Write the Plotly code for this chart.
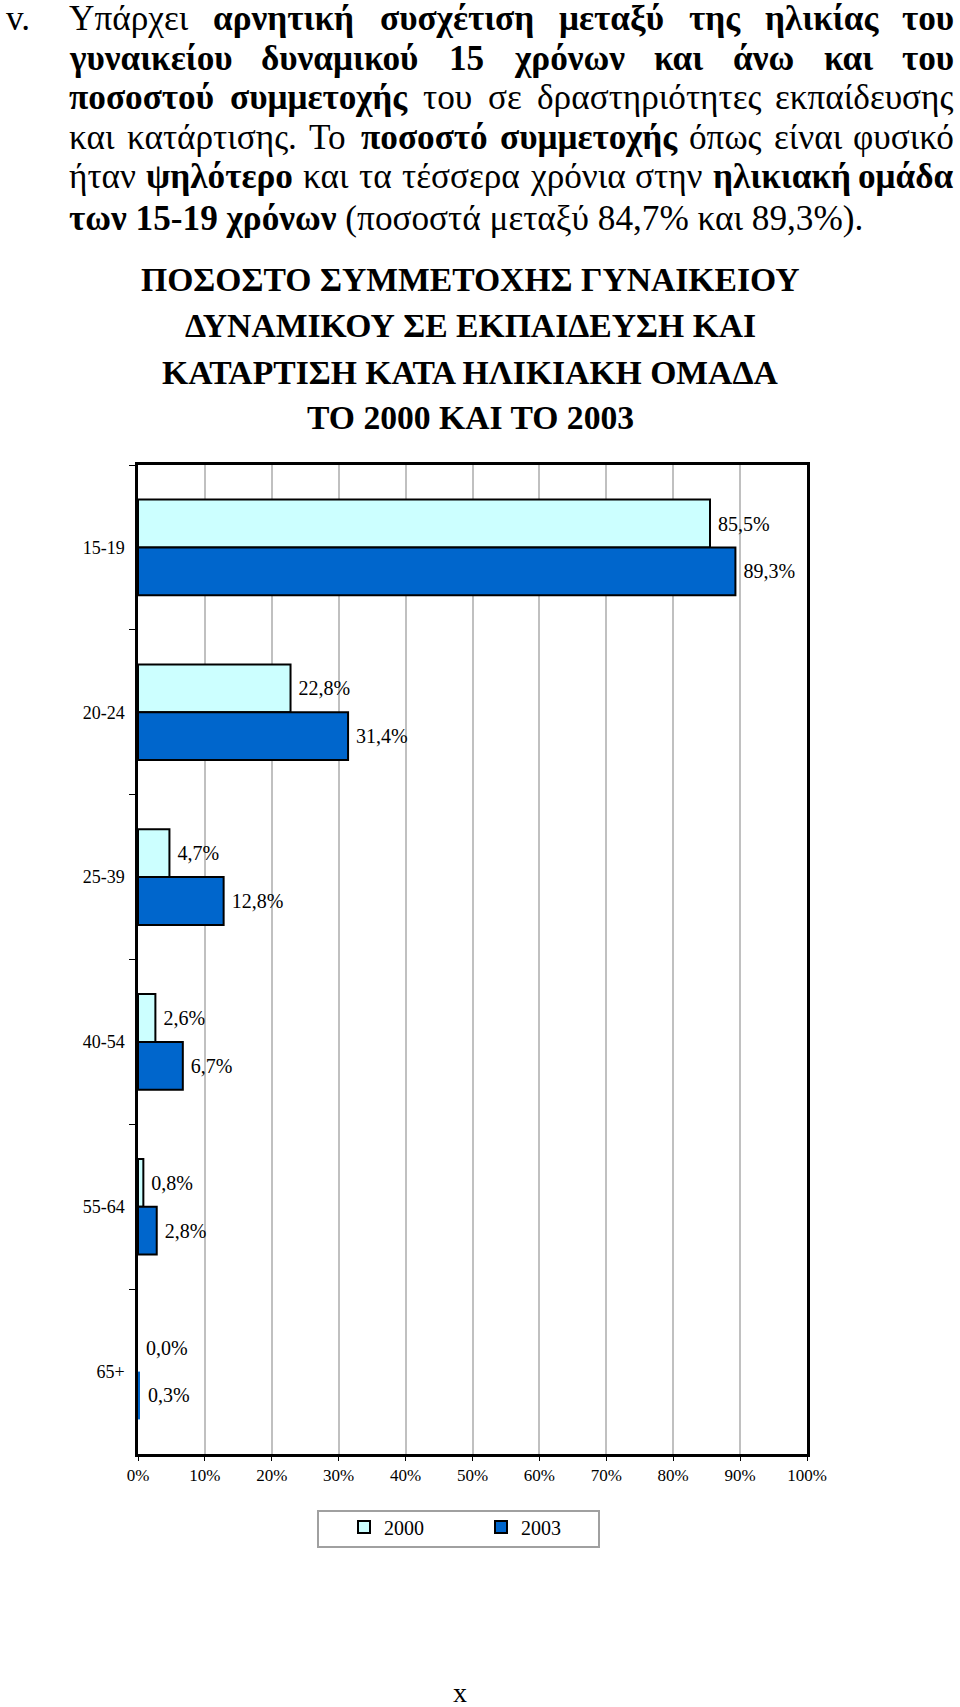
import glob
import struct

import plotly.graph_objects as go

# chart data
age_groups = ["15-19", "20-24", "25-39", "40-54", "55-64", "65+"]
pct_2000 = [85.5, 22.8, 4.7, 2.6, 0.8, 0.0]
pct_2003 = [89.3, 31.4, 12.8, 6.7, 2.8, 0.3]
series_names = ["2000", "2003"]
x_tickvals = [0, 10, 20, 30, 40, 50, 60, 70, 80, 90, 100]
x_ticktext = ["0%", "10%", "20%", "30%", "40%", "50%", "60%", "70%", "80%",
              "90%", "100%"]

title_lines = [
    "ΠΟΣΟΣΤΟ ΣΥΜΜΕΤΟΧΗΣ ΓΥΝΑΙΚΕΙΟΥ",
    "ΔΥΝΑΜΙΚΟΥ ΣΕ ΕΚΠΑΙΔΕΥΣΗ ΚΑΙ",
    "ΚΑΤΑΡΤΙΣΗ ΚΑΤΑ ΗΛΙΚΙΑΚΗ ΟΜΑΔΑ",
    "ΤΟ 2000 ΚΑΙ ΤΟ 2003",
]

# paragraph: words as (text, bold); the last line is not justified
para_lines = [
    [("Υπάρχει", 0), ("αρνητική", 1), ("συσχέτιση", 1), ("μεταξύ", 1),
     ("της", 1), ("ηλικίας", 1), ("του", 1)],
    [("γυναικείου", 1), ("δυναμικού", 1), ("15", 1), ("χρόνων", 1),
     ("και", 1), ("άνω", 1), ("και", 1), ("του", 1)],
    [("ποσοστού", 1), ("συμμετοχής", 1), ("του", 0), ("σε", 0),
     ("δραστηριότητες", 0), ("εκπαίδευσης", 0)],
    [("και", 0), ("κατάρτισης.", 0), ("Το", 0), ("ποσοστό", 1),
     ("συμμετοχής", 1), ("όπως", 0), ("είναι", 0), ("φυσικό", 0)],
    [("ήταν", 0), ("ψηλότερο", 1), ("και", 0), ("τα", 0), ("τέσσερα", 0),
     ("χρόνια", 0), ("στην", 0), ("ηλικιακή", 1), ("ομάδα", 1)],
    [("των 15-19 χρόνων", 1), (" (ποσοστά μεταξύ 84,7% και 89,3%).", 0)],
]

# page layout, px
W, H = 960, 1707
PL, PR, PT, PB = 138, 807, 465, 1454   # plot area
TXT_L, TXT_R = 68, 955
LINE_Y = [18, 58, 98, 137, 177, 218]
SERIF = "Liberation Serif"


def px(x):
    return (x - PL) / (PR - PL)


def py(y):
    return (PB - y) / (PB - PT)


def font_widths(name):
    # advance widths of a TrueType font, used to justify the paragraph
    paths = glob.glob("/usr/share/fonts/**/%s" % name, recursive=True)
    paths += glob.glob("/usr/local/share/fonts/**/%s" % name, recursive=True)
    if not paths:
        return None
    data = open(paths[0], "rb").read()
    u16 = lambda o: struct.unpack(">H", data[o:o + 2])[0]
    s16 = lambda o: struct.unpack(">h", data[o:o + 2])[0]
    tab = {}
    for i in range(u16(4)):
        tag, _, off, _ = struct.unpack(">4sIII", data[12 + 16 * i:28 + 16 * i])
        tab[tag.decode("latin-1")] = off
    upem = u16(tab["head"] + 18)
    nhm = u16(tab["hhea"] + 34)
    adv = [u16(tab["hmtx"] + 4 * i) for i in range(nhm)]
    cm = tab["cmap"]
    sub = None
    for i in range(u16(cm + 2)):
        pid, eid, off = struct.unpack(">HHI", data[cm + 4 + 8 * i:cm + 12 + 8 * i])
        if pid == 3 and eid == 1:
            sub = cm + off
    if sub is None or u16(sub) != 4:
        return None
    seg2 = u16(sub + 6)
    ends = sub + 14
    starts = ends + seg2 + 2
    deltas = starts + seg2
    ranges = deltas + seg2

    def glyph(c):
        for s in range(seg2 // 2):
            if c <= u16(ends + 2 * s):
                st = u16(starts + 2 * s)
                if c < st:
                    return 0
                ro = u16(ranges + 2 * s)
                if ro == 0:
                    return (c + s16(deltas + 2 * s)) & 0xFFFF
                g = u16(ranges + 2 * s + ro + 2 * (c - st))
                return (g + s16(deltas + 2 * s)) & 0xFFFF if g else 0
        return 0

    def width(text):
        return sum(adv[min(glyph(ord(ch)), nhm - 1)] for ch in text) / upem
    return width


w_reg = font_widths("LiberationSerif-Regular.ttf")
w_bold = font_widths("LiberationSerif-Bold.ttf")
if w_reg is None or w_bold is None:
    w_reg = lambda t: 0.47 * len(t)
    w_bold = lambda t: 0.50 * len(t)


def em(word, bold):
    return w_bold(word) if bold else w_reg(word)


# font sizes from the widths of the last paragraph line and first title line
para_size = 795 / sum(em(w, b) for w, b in para_lines[-1])
para_size = max(28, min(37, para_size))
title_size = 661 / w_bold(title_lines[0])
title_size = max(28, min(38, title_size))

fig = go.Figure()
fig.add_trace(go.Bar(
    y=age_groups, x=pct_2000, name=series_names[0], orientation="h",
    marker=dict(color="#CCFFFF",
                line=dict(color="black",
                          width=[2 if v >= 0.5 else 0 for v in pct_2000])),
    texttemplate="\u00a0%{x:.1f}%", textposition="outside", cliponaxis=False,
    textfont=dict(family=SERIF, size=20, color="black"),
))
fig.add_trace(go.Bar(
    y=age_groups, x=pct_2003, name=series_names[1], orientation="h",
    marker=dict(color="#0066CC",
                line=dict(color="black",
                          width=[2 if v >= 0.5 else 0 for v in pct_2003])),
    texttemplate="\u00a0%{x:.1f}%", textposition="outside", cliponaxis=False,
    textfont=dict(family=SERIF, size=20, color="black"),
))

ann = []
para = [dict(text="v.", x=px(5), y=py(LINE_Y[0]), xanchor="left")]
for li, words in enumerate(para_lines[:-1]):
    widths = [em(w, b) * para_size for w, b in words]
    gap = (TXT_R - TXT_L - sum(widths)) / (len(words) - 1)
    x = TXT_L
    for i, (w, b) in enumerate(words):
        t = "<b>%s</b>" % w if b else w
        if i == len(words) - 1:
            para.append(dict(text=t, x=px(TXT_R), y=py(LINE_Y[li]),
                             xanchor="right"))
        else:
            para.append(dict(text=t, x=px(x), y=py(LINE_Y[li]),
                             xanchor="left"))
        x += widths[i] + gap
last = "".join("<b>%s</b>" % w if b else w for w, b in para_lines[-1])
para.append(dict(text=last, x=px(TXT_L), y=py(LINE_Y[5]), xanchor="left"))
for a in para:
    a.update(xref="paper", yref="paper", yanchor="middle", showarrow=False,
             borderpad=0, font=dict(family=SERIF, size=para_size, color="black"))
ann += para

# chart title
for t, yy in zip(title_lines, [279, 325, 372, 418]):
    ann.append(dict(text="<b>%s</b>" % t, x=px(470), y=py(yy), xref="paper",
                    yref="paper", xanchor="center", yanchor="middle",
                    showarrow=False, borderpad=0,
                    font=dict(family=SERIF, size=title_size, color="black")))

# page number
ann.append(dict(text="x", x=px(460), y=py(1692), xref="paper", yref="paper",
                xanchor="center", yanchor="middle", showarrow=False,
                borderpad=0, font=dict(family=SERIF, size=28, color="black")))

fig.update_layout(
    width=W, height=H,
    margin=dict(l=PL, r=W - PR, t=PT, b=H - PB, pad=0),
    paper_bgcolor="white", plot_bgcolor="white",
    separators=",.",
    barmode="group", bargap=0.42, bargroupgap=0,
    showlegend=True,
    legend=dict(orientation="h", x=px(344), y=py(1527), xanchor="left",
                yanchor="middle", entrywidth=92, entrywidthmode="pixels",
                font=dict(family=SERIF, size=20, color="black"),
                bgcolor="rgba(0,0,0,0)", traceorder="normal"),
    annotations=ann,
    shapes=[dict(type="rect", xref="paper", yref="paper",
                 x0=px(318), x1=px(599), y0=py(1511), y1=py(1547),
                 line=dict(color="#A0A0A0", width=2))],
)
fig.update_xaxes(
    range=[0, 100], tickvals=x_tickvals, ticktext=x_ticktext,
    showgrid=True, gridcolor="#C0C0C0", gridwidth=2,
    showline=True, linecolor="black", linewidth=2.5, mirror=True,
    ticks="outside", ticklen=4, tickcolor="black", zeroline=False,
    tickfont=dict(family=SERIF, size=17, color="black"),
)
fig.update_yaxes(
    autorange="reversed", tickson="boundaries", ticks="outside", ticklen=6,
    tickcolor="black", showline=True, linecolor="black", linewidth=2.5,
    mirror=True, showgrid=False, ticklabelstandoff=7,
    tickfont=dict(family=SERIF, size=18, color="black"),
)

# drop the default 8px page margin so the figure fills the window
fig.write_html("out.html", config={"displayModeBar": False},
               post_script="document.body.style.margin = '0';")
